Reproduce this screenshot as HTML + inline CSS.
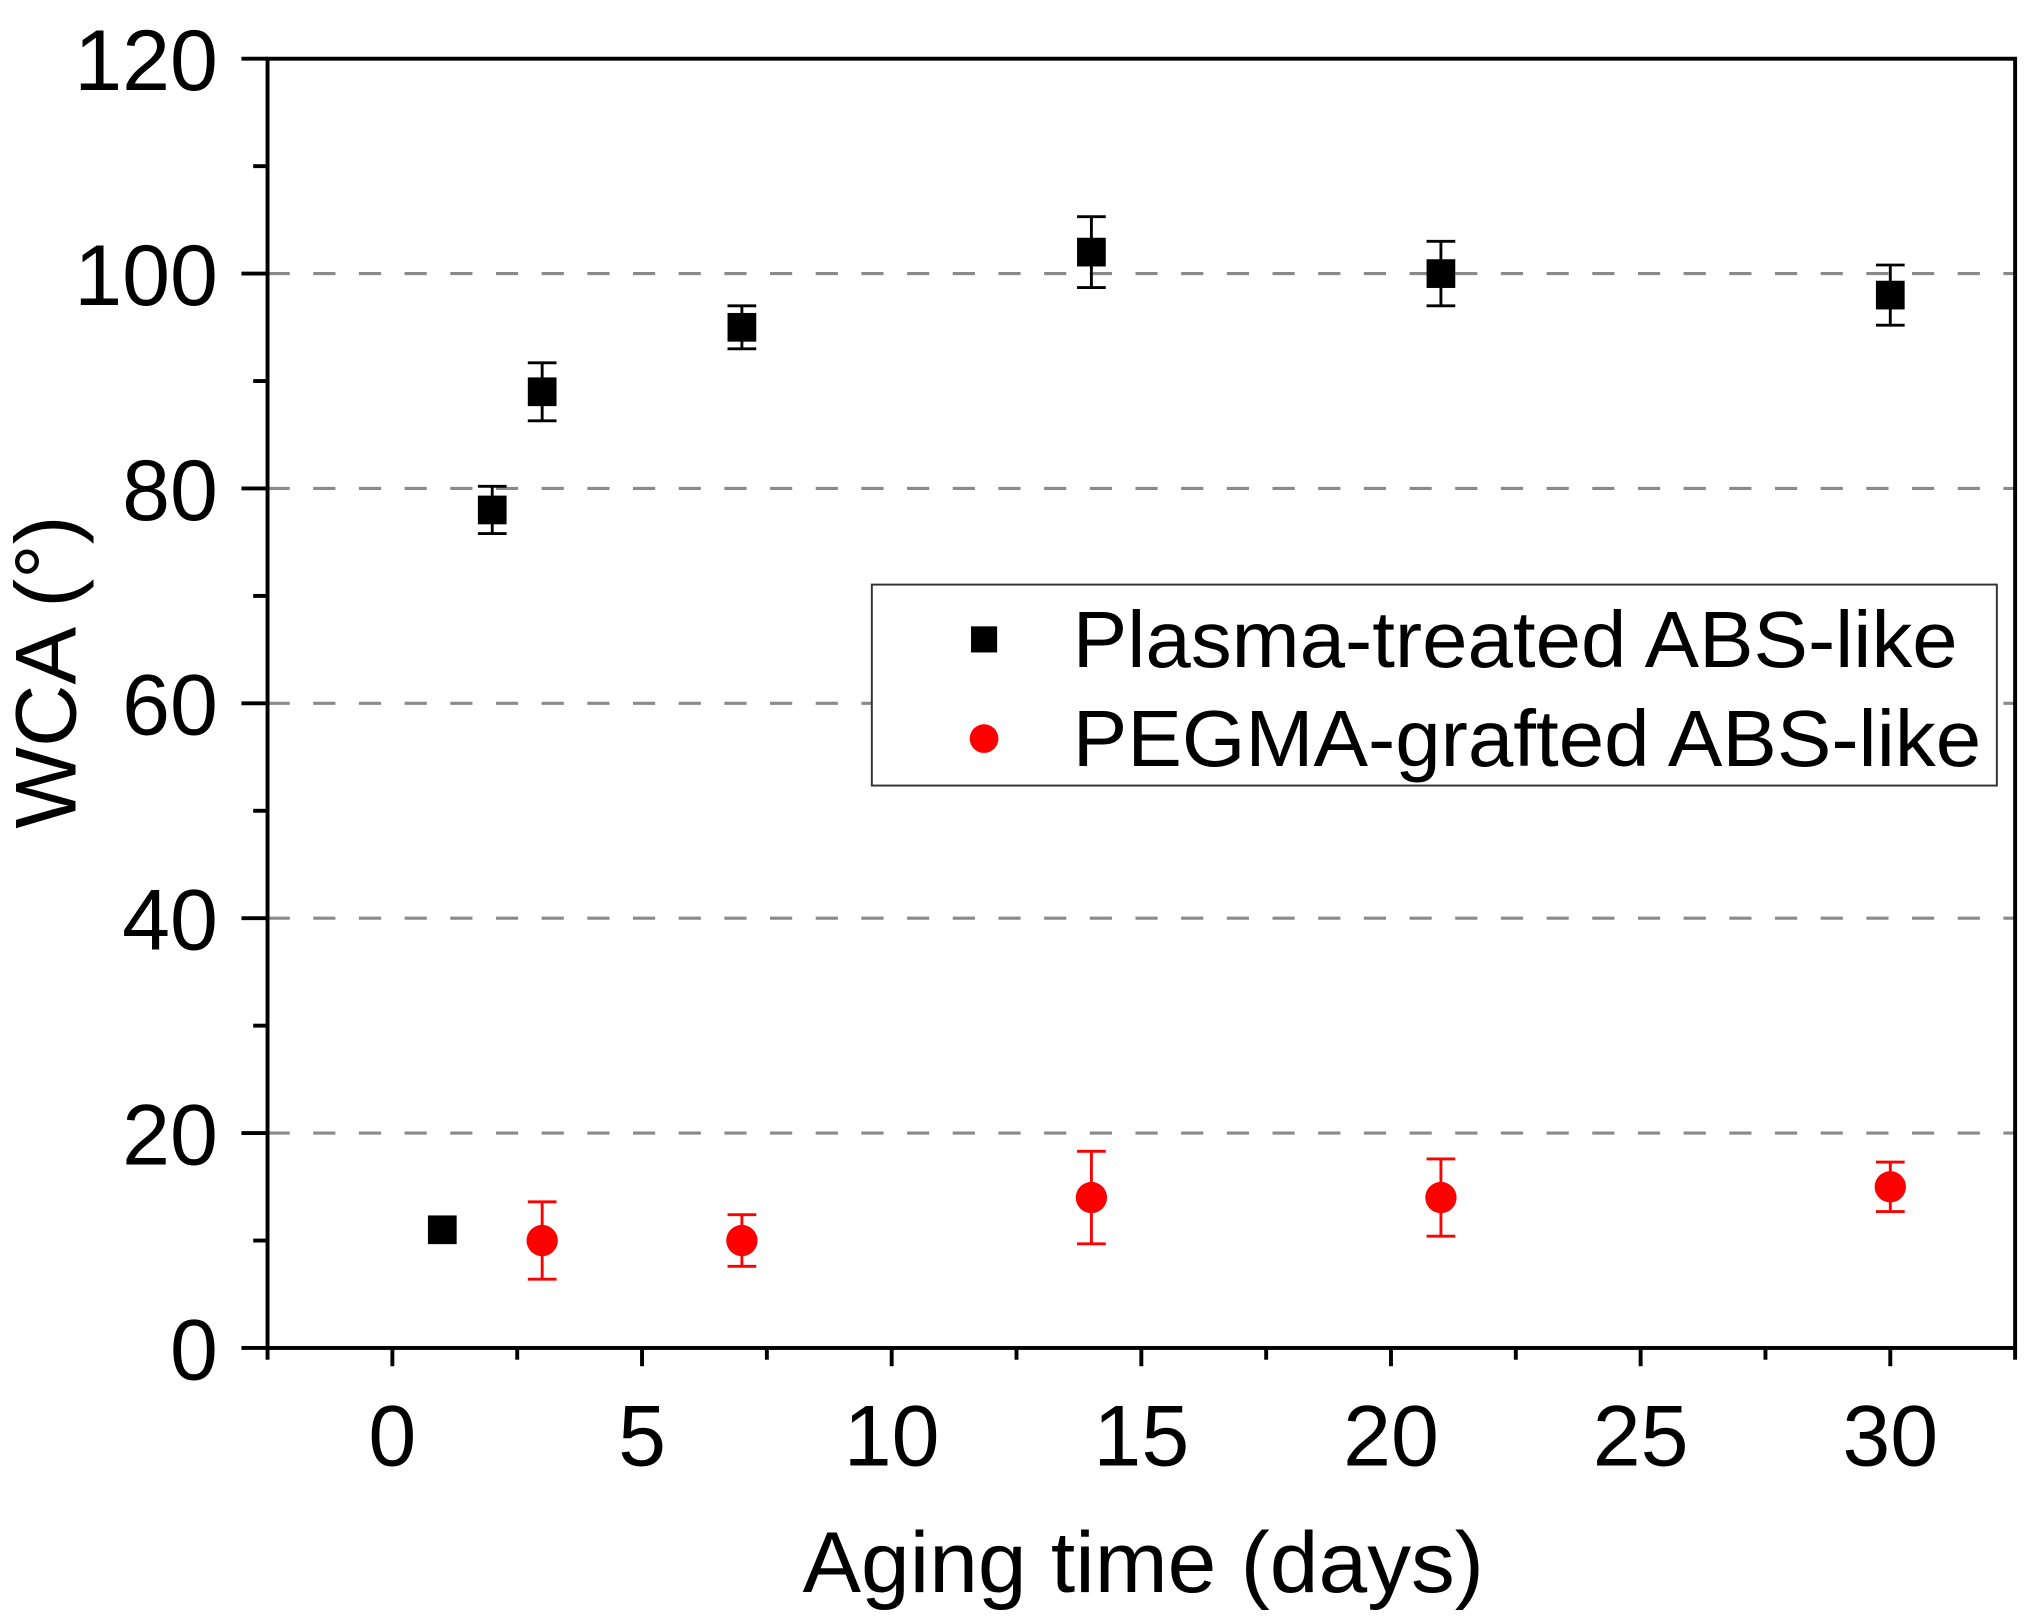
<!DOCTYPE html>
<html><head><meta charset="utf-8"><style>
html,body{margin:0;padding:0;background:#fff;}
svg{display:block;font-family:"Liberation Sans",Arial,sans-serif;}
</style></head><body>
<svg id="chart" width="2036" height="1622" viewBox="0 0 1560 1243" preserveAspectRatio="none" xmlns="http://www.w3.org/2000/svg">
<g id="grid"></g>
<g id="axes"></g>
<g id="marks"></g>
<g id="legend">
  <rect x="668" y="448" width="862" height="154" fill="#fff" stroke="#333" stroke-width="1.5"/>
  <rect x="744" y="480" width="20" height="20" fill="#000"/>
  <text x="822" y="511" font-size="61" textLength="678" lengthAdjust="spacingAndGlyphs">Plasma-treated ABS-like</text>
  <circle cx="754" cy="566" r="11" fill="#f00"/>
  <text x="822" y="587" font-size="61" textLength="696" lengthAdjust="spacingAndGlyphs">PEGMA-grafted ABS-like</text>
</g>
<text x="876" y="1220" font-size="66" text-anchor="middle" textLength="522" lengthAdjust="spacingAndGlyphs">Aging time (days)</text>
<text transform="translate(58,515) rotate(-90)" font-size="66" text-anchor="middle" textLength="240" lengthAdjust="spacingAndGlyphs">WCA (°)</text>
</svg>
<script>
const plasmaX=[1,2,3,7,14,21,30];
const plasmaY=[11,78,89,95,102,100,98];
const plasmaErr=[0,2.2,2.7,2,3.3,3,2.8];
const pegmaX=[3,7,14,21,30];
const pegmaY=[10,10,14,14,15];
const pegmaErr=[3.6,2.4,4.3,3.6,2.3];
const yTicks=[0,20,40,60,80,100,120];
const xTicks=[0,5,10,15,20,25,30];
const gridVals=[20,40,60,80,100];

const L=205,R=1544,T=45,B=1033;
const xMin=-2.5,xMax=32.5,yMin=0,yMax=120;
const sx=v=>L+(v-xMin)/(xMax-xMin)*(R-L);
const sy=v=>B-(v-yMin)/(yMax-yMin)*(B-T);
const NS="http://www.w3.org/2000/svg";
function mk(tag,attrs,parent){const e=document.createElementNS(NS,tag);for(const k in attrs)e.setAttribute(k,attrs[k]);parent.appendChild(e);return e;}
const grid=document.getElementById('grid'),axes=document.getElementById('axes'),marks=document.getElementById('marks');

gridVals.forEach(v=>{
  const l=mk('line',{x1:L,x2:R,y1:sy(v),y2:sy(v),stroke:'#8a8a8a','stroke-width':2.4,'stroke-dasharray':'17 18'},grid);
  
  
});

const frame=mk('rect',{x:L,y:T,width:R-L,height:B-T,fill:'none',stroke:'#000','stroke-width':3},axes);



yTicks.forEach(v=>{
  const t=mk('line',{x1:L-20,x2:L,y1:sy(v),y2:sy(v),stroke:'#000','stroke-width':3},axes);
  
  
  const tx=mk('text',{x:L-38,y:sy(v)+24,'font-size':66,'text-anchor':'end'},axes);
  tx.textContent=v;
  
  
});
for(let v=10;v<120;v+=20){
  const t=mk('line',{x1:L-11,x2:L,y1:sy(v),y2:sy(v),stroke:'#000','stroke-width':3},axes);
  
  
}
xTicks.forEach(v=>{
  const t=mk('line',{x1:sx(v),x2:sx(v),y1:B,y2:B+14,stroke:'#000','stroke-width':3},axes);
  
  
  const tx=mk('text',{x:sx(v),y:B+90,'font-size':66,'text-anchor':'middle'},axes);
  tx.textContent=v;
  
  
});
for(let v=-2.5;v<=32.5;v+=5){
  const t=mk('line',{x1:sx(v),x2:sx(v),y1:B,y2:B+9,stroke:'#000','stroke-width':3},axes);
  
  
}

function errbar(x,y,e,color){
  if(e<=0)return;
  const g=mk('g',{stroke:color,'stroke-width':2.2},marks);
  
  
  const cx=sx(x);
  mk('line',{x1:cx,x2:cx,y1:sy(y+e),y2:sy(y-e)},g);
  mk('line',{x1:cx-11,x2:cx+11,y1:sy(y+e),y2:sy(y+e)},g);
  mk('line',{x1:cx-11,x2:cx+11,y1:sy(y-e),y2:sy(y-e)},g);
}
plasmaX.forEach((x,i)=>{
  errbar(x,plasmaY[i],plasmaErr[i],'#000');
  const r=mk('rect',{x:sx(x)-11,y:sy(plasmaY[i])-11,width:22,height:22,fill:'#000'},marks);
  
  
});
pegmaX.forEach((x,i)=>{
  errbar(x,pegmaY[i],pegmaErr[i],'#f00');
  const c=mk('circle',{cx:sx(x),cy:sy(pegmaY[i]),r:12,fill:'#f00'},marks);
  
  
});
</script>
</body></html>
